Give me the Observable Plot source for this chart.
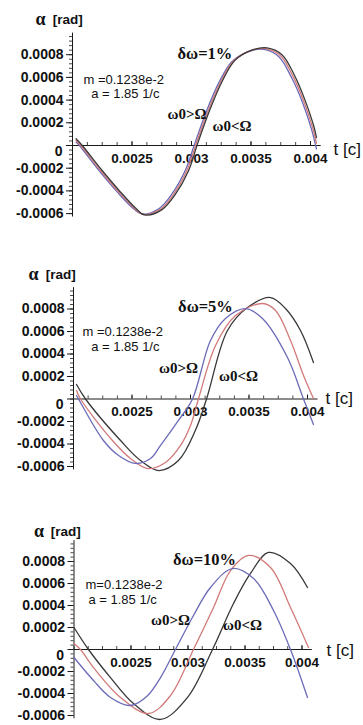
<!DOCTYPE html>
<html><head><meta charset="utf-8">
<script src="https://cdn.jsdelivr.net/npm/d3@7"></script>
<script src="https://cdn.jsdelivr.net/npm/@observablehq/plot@0.6"></script>
<style>
html,body{margin:0;padding:0;background:#fff;overflow:hidden;}
#wrap{position:relative;width:363px;height:725px;overflow:hidden;background:#fff;}
.panel{position:absolute;left:0;width:363px;overflow:hidden;}
.panel svg{display:block;overflow:visible;}
</style></head><body><div id="wrap"></div>
<script>
// ---------- tick values & labels ----------
const yTicks = [-0.0006, -0.0004, -0.0002, 0.0002, 0.0004, 0.0006, 0.0008];
const yTickLabels = ["-0.0006", "-0.0004", "-0.0002", "0.0002", "0.0004", "0.0006", "0.0008"];
const yZeroLabel = ["0"];
const xTicks = [0.0025, 0.003, 0.0035, 0.004];
const xTickLabels = ["0.0025", "0.003", "0.0035", "0.004"];
const xDomain = [0.002, 0.00409];
const yDomain = [-0.00063, 0.00099];

// ---------- panel 1 : δω = 1% ----------
const p1RedT   = [0.00203, 0.00207, 0.002235, 0.002378, 0.002513, 0.002597, 0.00274, 0.002849, 0.002966, 0.003034, 0.003135, 0.003244, 0.003353, 0.003496, 0.003622, 0.003748, 0.003857, 0.003941, 0.004017, 0.00405];
const p1RedA   = [0.000044, 0, -0.00022, -0.000396, -0.000546, -0.000608, -0.00056, -0.00043, -0.00021, 0, 0.000295, 0.00056, 0.000745, 0.000835, 0.000853, 0.00079, 0.0006, 0.000396, 0.00016, 0.00002];
const p1BlueT  = [0.00203, 0.002058, 0.002223, 0.002366, 0.002501, 0.002585, 0.002728, 0.002837, 0.002954, 0.003022, 0.003123, 0.003232, 0.003341, 0.003484, 0.00361, 0.003736, 0.003845, 0.003929, 0.004005, 0.00405];
const p1BlueA  = [0.00003, 0, -0.000222, -0.000398, -0.000546, -0.000604, -0.000555, -0.000425, -0.000205, 0, 0.000295, 0.000558, 0.00074, 0.00083, 0.000846, 0.00078, 0.00059, 0.00039, 0.000155, -0.00003];
const p1BlackT = [0.00203, 0.002082, 0.002247, 0.00239, 0.002525, 0.002609, 0.002752, 0.002861, 0.002978, 0.003046, 0.003147, 0.003256, 0.003365, 0.003508, 0.003634, 0.00376, 0.003869, 0.003953, 0.004029, 0.00405];
const p1BlackA = [0.00006, 0, -0.000218, -0.000394, -0.000546, -0.000612, -0.000565, -0.000435, -0.000215, 0, 0.000295, 0.000562, 0.00075, 0.00084, 0.00086, 0.0008, 0.00061, 0.000402, 0.000165, 0.00007];

// ---------- panel 2 : δω = 5% ----------
const p2BlueT  = [0.002026, 0.002043, 0.002256, 0.002385, 0.00253, 0.002658, 0.002744, 0.002897, 0.003017, 0.003171, 0.003299, 0.00347, 0.003615, 0.003829, 0.003966, 0.004051];
const p2BlueA  = [0.000031, 0, -0.000369, -0.000502, -0.000573, -0.000529, -0.000413, -0.000191, 0, 0.00052, 0.000716, 0.000804, 0.000716, 0.000369, 0, -0.000227];
const p2RedT   = [0.002026, 0.00206, 0.002333, 0.002487, 0.002633, 0.002786, 0.002915, 0.003, 0.003068, 0.003214, 0.003385, 0.003615, 0.003727, 0.003855, 0.003966, 0.004051];
const p2RedA   = [0.000076, 0, -0.000369, -0.000529, -0.000618, -0.000564, -0.000413, -0.000236, 0, 0.000476, 0.000742, 0.000849, 0.000787, 0.00052, 0.000209, 0.000004];
const p2BlackT = [0.002026, 0.002103, 0.002402, 0.002573, 0.002727, 0.002897, 0.003043, 0.003137, 0.003316, 0.003487, 0.003684, 0.003812, 0.00394, 0.004051];
const p2BlackA = [0.000129, 0, -0.000369, -0.000547, -0.000636, -0.000547, -0.000276, 0, 0.000609, 0.000813, 0.000902, 0.000804, 0.000609, 0.000324];

// ---------- panel 3 : δω = 10% ----------
const p3BlueT  = [0.002, 0.002171, 0.00232, 0.002496, 0.002645, 0.002759, 0.00289, 0.003048, 0.003197, 0.00339, 0.003575, 0.00375, 0.003899, 0.004048];
const p3BlueA  = [-0.000073, -0.000282, -0.000436, -0.000509, -0.00042, -0.000255, 0, 0.000309, 0.000564, 0.000736, 0.000645, 0.000355, 0, -0.000436];
const p3RedT   = [0.002, 0.002057, 0.002171, 0.002408, 0.002654, 0.002847, 0.003048, 0.003224, 0.003373, 0.003531, 0.003724, 0.003899, 0.004057];
const p3RedA   = [0.000055, 0, -0.000164, -0.000436, -0.000582, -0.000418, 0, 0.000382, 0.000718, 0.000855, 0.000745, 0.000382, 0.000018];
const p3BlackT = [0.002, 0.002127, 0.00232, 0.002522, 0.002759, 0.002996, 0.003215, 0.003399, 0.003548, 0.003706, 0.003899, 0.004048];
const p3BlackA = [0.0002, 0, -0.000255, -0.000491, -0.000636, -0.000436, 0, 0.000418, 0.000691, 0.000882, 0.000782, 0.000564];

// ---------- annotation texts ----------
const deltaTexts = ["δω=1%", "δω=5%", "δω=10%"];
const mTexts = ["m =0.1238e-2", "m =0.1238e-2", "m=0.1238e-2"];
const aText = "a = 1.85 1/c";
const gtText = "ω0>Ω";
const ltText = "ω0<Ω";
const xAxisTitle = "t [c]";
const yAxisSymbol = "α";
const yAxisUnit = "[rad]";

// ---------- styles ----------
const SANS = "'Liberation Sans', Arial, Helvetica, sans-serif";
const SERIF = "'Liberation Serif', 'Times New Roman', serif";
const AXIS = "#1a1a1a";
const INK = "#111";
const COL = {black: "#383838", red: "#d27a7a", blue: "#6a6ab8"};

const xMinor = d3.range(16, 33).map(i => i * 0.000125);
const yMinor = d3.range(-15, 25).map(i => i * 0.00004);

const panels = [
  {top: 0, height: 250, xr: [72, 72 + 0.00209 * 119000], zero: 145, ys: 113500,
   series: {blue: [p1BlueT, p1BlueA], red: [p1RedT, p1RedA], black: [p1BlackT, p1BlackA]},
   order: ["blue", "red", "black"],
   ann: {delta: [0.003113, 0.000811], m: [0.002092, 0.000581], a: [0.002157, 0.000454],
         gt: [0.002962, 0.000273], lt: [0.00334, 0.000167], t: [0.004193, -0.000035],
         al: [0.001731, 0.00111], rad: [0.001835, 0.00111]}, di: 0},
  {top: 250, height: 250, xr: [73, 73 + 0.00209 * 117000], zero: 148.5, ys: 112500,
   series: {blue: [p2BlueT, p2BlueA], red: [p2RedT, p2RedA], black: [p2BlackT, p2BlackA]},
   order: ["black", "red", "blue"],
   ann: {delta: [0.003128, 0.000816], m: [0.002077, 0.000596], a: [0.002151, 0.000468],
         gt: [0.002897, 0.000274], lt: [0.00341, 0.000204], t: [0.004154, 0.000004],
         al: [0.001658, 0.001109], rad: [0.001762, 0.001109]}, di: 1},
  {top: 500, height: 225, xr: [73.5, 73.5 + 0.00209 * 114000], zero: 149, ys: 110000,
   series: {blue: [p3BlueT, p3BlueA], red: [p3RedT, p3RedA], black: [p3BlackT, p3BlackA]},
   order: ["black", "red", "blue"],
   ann: {delta: [0.003145, 0.000818], m: [0.002101, 0.000584], a: [0.002127, 0.000452],
         gt: [0.002846, 0.000264], lt: [0.003478, 0.000218], t: [0.004215, -0.000009],
         al: [0.001693, 0.001073], rad: [0.001795, 0.001073]}, di: 2}
];

function rows(t, a) { return t.map((v, i) => ({t: v, a: a[i]})); }

function makePanel(p) {
  const x0 = xDomain[0], x1 = xDomain[1];
  const yr = [p.zero - yDomain[0] * p.ys, p.zero - yDomain[1] * p.ys];
  const one = (pos, txt) => [{t: pos[0], a: pos[1], s: txt}];
  const marks = [
    // y axis line and ticks
    Plot.ruleX([x0], {y1: () => yDomain[0], y2: () => yDomain[1], stroke: AXIS, strokeWidth: 1}),
    Plot.ruleY(yMinor, {y: d => d, x1: () => x0, x2: () => x0, insetLeft: -3, stroke: AXIS, strokeWidth: 0.8}),
    Plot.ruleY(yTicks.concat([0]), {y: d => d, x1: () => x0, x2: () => x0, insetLeft: -6, stroke: AXIS, strokeWidth: 1}),
    // x axis line and ticks
    Plot.ruleY([0], {x1: () => x0, x2: () => x1, stroke: AXIS, strokeWidth: 1}),
    Plot.ruleX(xMinor, {x: d => d, y1: () => 0, y2: () => 0, insetTop: -3, stroke: AXIS, strokeWidth: 0.8}),
    Plot.ruleX(xTicks, {x: d => d, y1: () => 0, y2: () => 0, insetTop: -4, stroke: AXIS, strokeWidth: 1}),
    // tick labels
    Plot.text(yTicks, {x: () => x0, y: d => d, text: (d, i) => yTickLabels[i], textAnchor: "end", dx: -9,
      fontFamily: SANS, fontWeight: "bold", fontSize: 14, fill: INK}),
    Plot.text(yZeroLabel, {x: () => x0, y: () => 0, text: d => d, textAnchor: "end", dx: -10, dy: 6,
      fontFamily: SANS, fontWeight: "bold", fontSize: 14, fill: INK}),
    Plot.text(xTicks, {x: d => d, y: () => 0, text: (d, i) => xTickLabels[i], dy: 13,
      fontFamily: SANS, fontWeight: "bold", fontSize: 13.5, fill: INK})
  ];
  for (const k of p.order) {
    const [t, a] = p.series[k];
    marks.push(Plot.line(rows(t, a), {x: "t", y: "a", stroke: COL[k], strokeWidth: 1.3, curve: "catmull-rom"}));
  }
  const A = p.ann;
  marks.push(
    Plot.text(one(A.delta, deltaTexts[p.di]), {x: "t", y: "a", text: "s", fontFamily: SERIF, fontWeight: "bold", fontSize: 16.5, fill: INK}),
    Plot.text(one(A.m, mTexts[p.di]), {x: "t", y: "a", text: "s", textAnchor: "start", ariaLabel: "m-note",
      fontFamily: SANS, fontSize: 13, fill: INK}),
    Plot.text(one(A.a, aText), {x: "t", y: "a", text: "s", textAnchor: "start", ariaLabel: "a-note",
      fontFamily: SANS, fontSize: 13, fill: INK}),
    Plot.text(one(A.gt, gtText), {x: "t", y: "a", text: "s", fontFamily: SERIF, fontWeight: "bold", fontSize: 15, fill: INK}),
    Plot.text(one(A.lt, ltText), {x: "t", y: "a", text: "s", fontFamily: SERIF, fontWeight: "bold", fontSize: 15, fill: INK}),
    Plot.text(one(A.t, xAxisTitle), {x: "t", y: "a", text: "s", textAnchor: "start", fontFamily: SANS, fontSize: 17, fill: INK}),
    Plot.text(one(A.al, yAxisSymbol), {x: "t", y: "a", text: "s", fontFamily: SERIF, fontWeight: "bold", fontSize: 18, fill: INK}),
    Plot.text(one(A.rad, yAxisUnit), {x: "t", y: "a", text: "s", textAnchor: "start", fontFamily: SANS, fontWeight: "bold", fontSize: 13.5, fill: INK})
  );
  const svg = Plot.plot({
    width: 363, height: p.height,
    marginLeft: 0, marginRight: 0, marginTop: 0, marginBottom: 0,
    x: {domain: xDomain, range: p.xr},
    y: {domain: yDomain, range: yr},
    axis: null,
    style: {background: "#fff", overflow: "visible"},
    marks
  });
  d3.select(svg).selectAll("g[aria-label='m-note'] text").style("letter-spacing", "0.8px");
  d3.select(svg).selectAll("g[aria-label='a-note'] text").style("letter-spacing", "0.3px");
  return svg;
}

const wrap = document.getElementById("wrap");
for (const p of panels) {
  const div = document.createElement("div");
  div.className = "panel";
  div.style.top = p.top + "px";
  div.style.height = p.height + "px";
  div.appendChild(makePanel(p));
  wrap.appendChild(div);
}
</script>
</body></html>
